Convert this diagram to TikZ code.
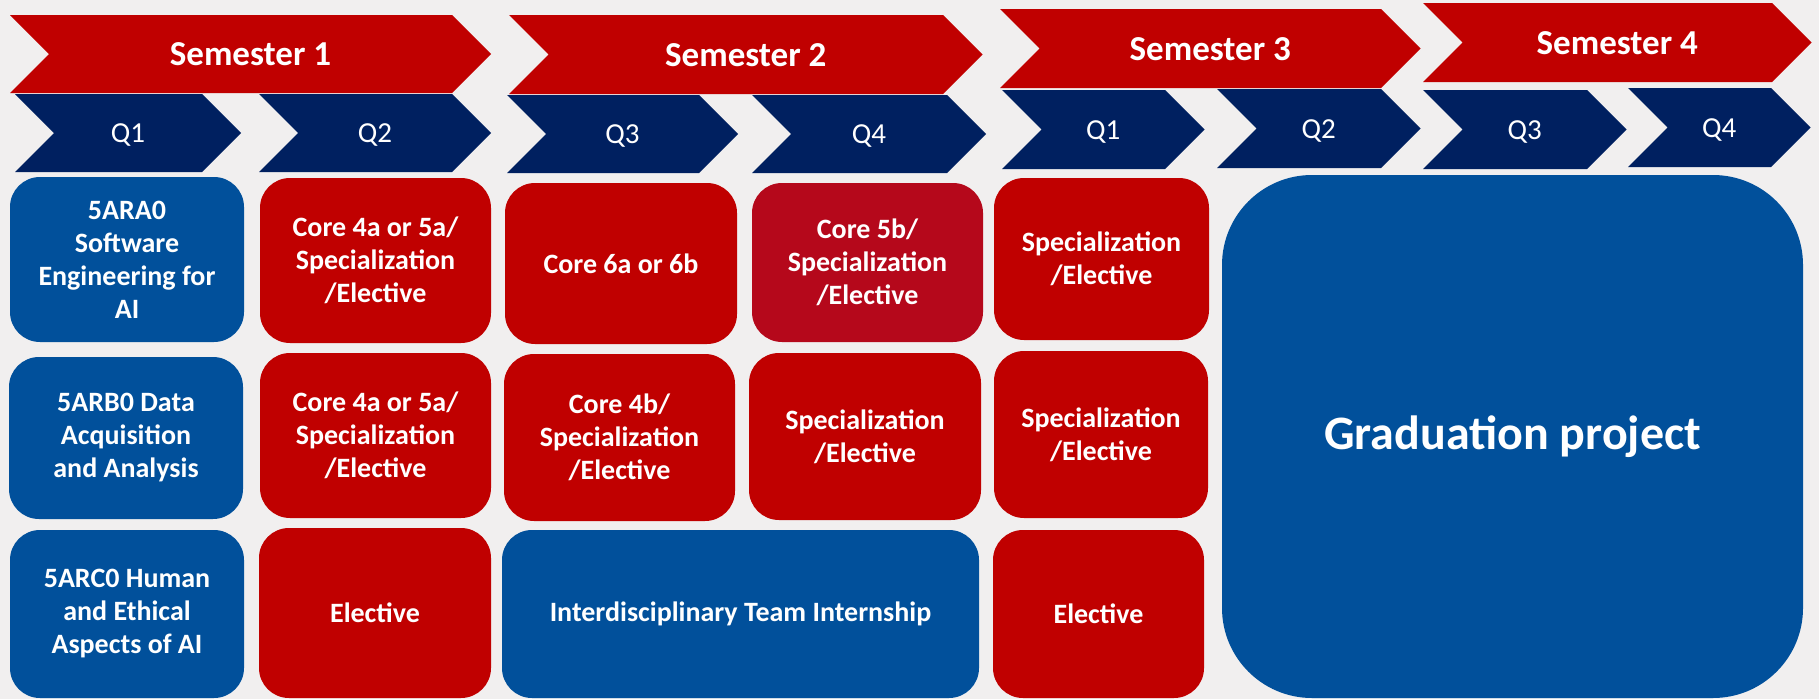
\documentclass[tikz,border=0pt]{standalone}
\usepackage{fontspec}
\setmainfont{Carlito}
\usepackage{tikz}

\definecolor{bgcol}{RGB}{241,239,239}
\definecolor{semred}{RGB}{192,0,0}
\definecolor{qnavy}{RGB}{0,32,96}
\definecolor{boxblue}{RGB}{1,80,155}
\definecolor{boxred}{RGB}{192,0,0}
\definecolor{boxdark}{RGB}{181,8,27}

\begin{document}
\begin{tikzpicture}[x=1pt,y=-1pt,
  semtext/.style={text=white,font=\bfseries\fontsize{35}{42}\selectfont,text height=23pt,text depth=0pt,inner sep=0pt},
  qtext/.style={text=white,font=\fontsize{29}{35}\selectfont,text height=19pt,text depth=0pt,inner sep=0pt},
  course/.style={text=white,align=center,inner sep=0pt,rounded corners=30pt,font=\bfseries\fontsize{28}{33}\selectfont},
  bluebox/.style={course,fill=boxblue},
  redbox/.style={course,fill=boxred},
  darkbox/.style={course,fill=boxdark}]

\useasboundingbox (0,0) rectangle (1819,699);
\fill[bgcol] (0,0) rectangle (1819,699);

% semesters
\fill[semred] (10,15) -- (452,15) -- (491,54) -- (452,93) -- (10,93) -- (49,54) -- cycle;
\fill[semred] (509,15) -- (943,15) -- (982.5,54.5) -- (943,94) -- (509,94) -- (548.5,54.5) -- cycle;
\fill[semred] (1000,9) -- (1381,9) -- (1420.5,48.5) -- (1381,88) -- (1000,88) -- (1039.5,48.5) -- cycle;
\fill[semred] (1423,3) -- (1772,3) -- (1811.5,42.5) -- (1772,82) -- (1423,82) -- (1462.5,42.5) -- cycle;
\node[semtext] (s1) at (250.5,54) {Semester 1};
\node[semtext] (s2) at (745.75,54.5) {Semester 2};
\node[semtext] (s3) at (1210.25,48.5) {Semester 3};
\node[semtext] (s4) at (1617.25,42.5) {Semester 4};

% quartiles
\fill[qnavy] (15,94) -- (202,94) -- (241,133) -- (202,172) -- (15,172) -- (54,133) -- cycle;
\fill[qnavy] (259,94) -- (452,94) -- (491,133) -- (452,172) -- (259,172) -- (298,133) -- cycle;
\fill[qnavy] (507,95) -- (699,95) -- (738,134) -- (699,173) -- (507,173) -- (546,134) -- cycle;
\fill[qnavy] (752,95) -- (947,95) -- (986,134) -- (947,173) -- (752,173) -- (791,134) -- cycle;
\fill[qnavy] (1002,90) -- (1165,90) -- (1204.5,129.5) -- (1165,169) -- (1002,169) -- (1041.5,129.5) -- cycle;
\fill[qnavy] (1217,89) -- (1381,89) -- (1420.5,128.5) -- (1381,168) -- (1217,168) -- (1256.5,128.5) -- cycle;
\fill[qnavy] (1423,90) -- (1587,90) -- (1626.5,129.5) -- (1587,169) -- (1423,169) -- (1462.5,129.5) -- cycle;
\fill[qnavy] (1628,88) -- (1771,88) -- (1810.5,127.5) -- (1771,167) -- (1628,167) -- (1667.5,127.5) -- cycle;
\node[qtext] (q1) at (128,133) {Q1};
\node[qtext] (q2) at (375,133) {Q2};
\node[qtext] (q3) at (622.5,134) {Q3};
\node[qtext] (q4) at (869,134) {Q4};
\node[qtext] (q5) at (1103.25,129.5) {Q1};
\node[qtext] (q6) at (1318.75,128.5) {Q2};
\node[qtext] (q7) at (1524.75,129.5) {Q3};
\node[qtext] (q8) at (1719.25,127.5) {Q4};

% courses
\node[bluebox,minimum width=234pt,minimum height=165pt] (ara) at (127,259.5) {5ARA0\\Software\\Engineering for\\AI};
\node[redbox,minimum width=231pt,minimum height=165pt] (coreA) at (375.5,260.5) {Core 4a or 5a/\\Specialization\\/Elective};
\node[redbox,minimum width=232pt,minimum height=161pt] (coreSix) at (621,263.5) {Core 6a or 6b};
\node[darkbox,minimum width=231pt,minimum height=159pt] (coreFive) at (867.5,262.5) {Core 5b/\\Specialization\\/Elective};
\node[redbox,minimum width=215pt,minimum height=162pt] (specA) at (1101.5,259) {Specialization\\/Elective};

\node[bluebox,minimum width=234pt,minimum height=162pt] (arb) at (126,438) {5ARB0 Data\\Acquisition\\and Analysis};
\node[redbox,minimum width=231pt,minimum height=165pt] (coreB) at (375.5,435.5) {Core 4a or 5a/\\Specialization\\/Elective};
\node[redbox,minimum width=231pt,minimum height=167pt] (coreFour) at (619.5,437.5) {Core 4b/\\Specialization\\/Elective};
\node[redbox,minimum width=232pt,minimum height=167pt] (specB) at (865,436.5) {Specialization\\/Elective};
\node[redbox,minimum width=214pt,minimum height=167pt] (specC) at (1101,434.5) {Specialization\\/Elective};

\node[bluebox,minimum width=234pt,minimum height=168pt] (arc) at (127,614) {5ARC0 Human\\and Ethical\\Aspects of AI};
\node[redbox,minimum width=232pt,minimum height=170pt] (elecA) at (375,613) {Elective};
\node[bluebox,minimum width=477pt,minimum height=168pt] (intern) at (740.5,614) {Interdisciplinary Team Internship};
\node[redbox,minimum width=211pt,minimum height=168pt] (elecB) at (1098.5,614) {Elective};

\node[bluebox,rounded corners=90pt,minimum width=581pt,minimum height=523pt,font=\bfseries\fontsize{48}{56}\selectfont] (grad) at (1512.5,436.5) {Graduation project};

\end{tikzpicture}
\end{document}
